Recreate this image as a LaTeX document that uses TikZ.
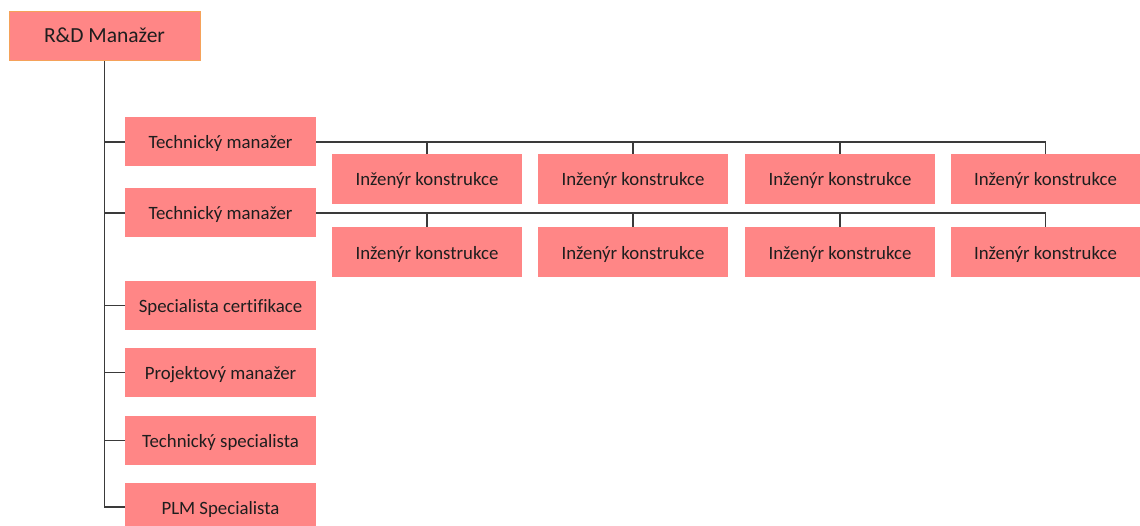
\documentclass[tikz,border=0pt]{standalone}
\usepackage{fontspec}
\setmainfont{Carlito}[Ligatures=NoCommon]
\definecolor{boxfill}{HTML}{FF8686}
\definecolor{boxedge}{HTML}{F5A25A}
\definecolor{wire}{HTML}{3A3A3A}
\definecolor{ink}{HTML}{1E1E1E}
\begin{document}
\begin{tikzpicture}[x=1pt,y=-1pt,
  role/.style={fill=boxfill, draw=none, text=ink, inner sep=0pt,
    text height=17pt, text depth=3pt,
    minimum width=191pt, minimum height=49pt, font=\fontsize{18.8}{21}\selectfont},
  head/.style={role, draw=boxedge, line width=1pt, text height=14.6pt, text depth=3pt,
    font=\fontsize{21.5}{25}\selectfont},
  link/.style={draw=wire, line width=1.1pt}]
\useasboundingbox (0,0) rectangle (1140,526);

% top of the tree
\node[head] (rd) at (104.5,36.5) {R\&D Manažer};

% first level
\node[role] (tm1)  at (220.5,142)   {Technický manažer};
\node[role] (tm2)  at (220.5,213)   {Technický manažer};
\node[role] (cert) at (220.5,305.5) {Specialista certifikace};
\node[role] (proj) at (220.5,372.5) {Projektový manažer};
\node[role] (ts)   at (220.5,440.5) {Technický specialista};
\node[role] (plm)  at (220.5,507)   {PLM Specialista};

% engineers under each technical manager
\foreach \i/\x in {1/427,2/633,3/840,4/1045.5}{
  \node[role, minimum width=190pt, minimum height=50pt] (ea\i) at (\x,179)   {Inženýr konstrukce};
  \node[role, minimum width=190pt, minimum height=50pt] (eb\i) at (\x,252.5) {Inženýr konstrukce};
}

% trunk and branches
\coordinate (trunk) at (105,0);
\draw[link] (rd.south) -- (rd.south |- plm.west) -- (plm.west);
\foreach \n in {tm1,tm2,cert,proj,ts}
  \draw[link] (trunk |- \n.west) -- (\n.west);

% buses to the engineers
\draw[link] (tm1.east) -- (tm1.east -| ea4.north) -- (ea4.north);
\draw[link] (tm2.east) -- (tm2.east -| eb4.north) -- (eb4.north);
\foreach \i in {1,2,3}{
  \draw[link] (ea\i.north |- tm1.east) -- (ea\i.north);
  \draw[link] (eb\i.north |- tm2.east) -- (eb\i.north);
}
\end{tikzpicture}
\end{document}
